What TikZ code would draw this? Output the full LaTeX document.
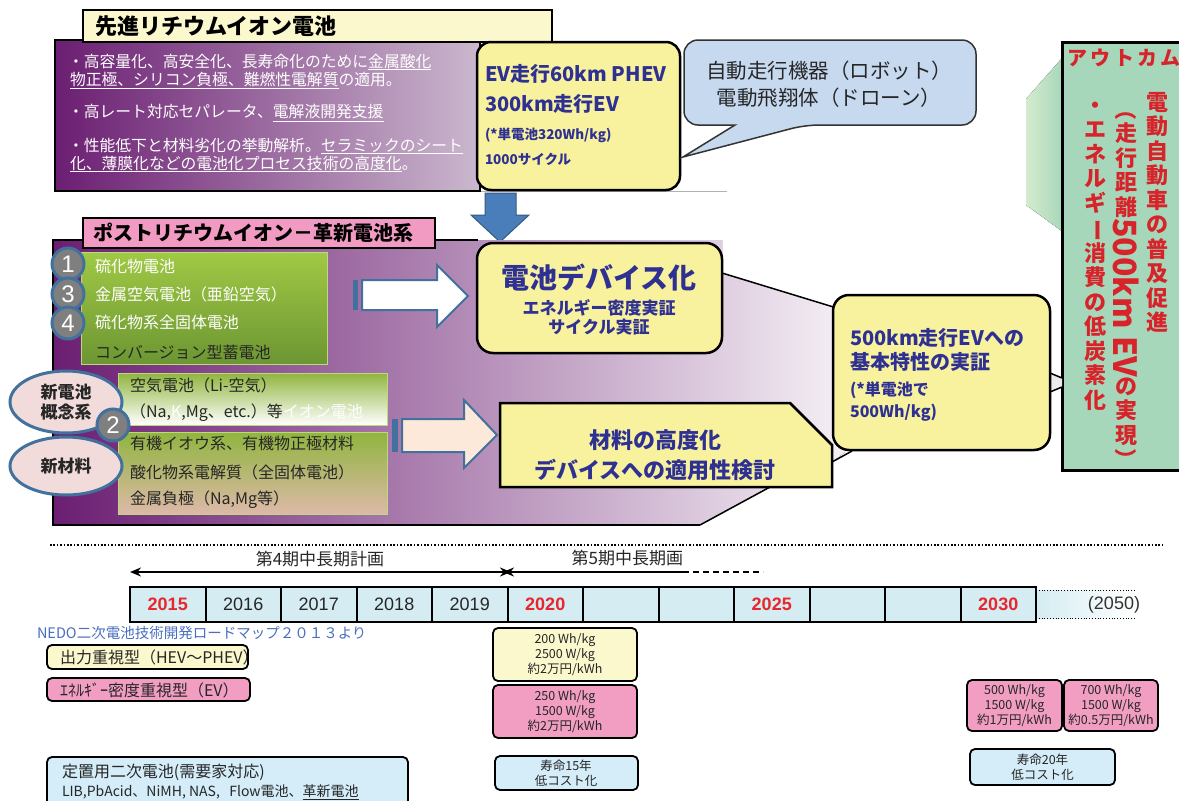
\documentclass[tikz,border=0pt]{standalone}
\usepackage{fontspec}
\setmainfont{Noto Sans CJK JP}
\newfontfamily\arial{Liberation Sans}
\usetikzlibrary{shapes.geometric,arrows.meta}
\newcommand{\fsz}[1]{\fontsize{#1}{#1}\selectfont}
\definecolor{navy}{HTML}{2E3192}
\definecolor{purp}{HTML}{6B1E72}
\definecolor{lav}{HTML}{CBB8CE}
\definecolor{ylw}{HTML}{F8F29E}
\definecolor{cream}{HTML}{FCF8CE}
\definecolor{pinkT}{HTML}{F29BC2}
\definecolor{bubble}{HTML}{C6D9EF}
\definecolor{bord}{HTML}{41719C}
\definecolor{circ}{HTML}{7F7F7F}
\definecolor{gtop}{HTML}{A0C945}
\definecolor{gbot}{HTML}{6C9632}
\definecolor{outg}{HTML}{A7D7BA}
\definecolor{outl}{HTML}{D5EBCD}
\definecolor{red1}{HTML}{D7242B}
\definecolor{yred}{HTML}{E8262D}
\definecolor{tl}{HTML}{D4ECF2}
\definecolor{peach}{HTML}{FDE9D9}
\definecolor{ellf}{HTML}{F2DCDB}
\definecolor{arrowb}{HTML}{4A7EBB}
\definecolor{nedo}{HTML}{4A6FC0}
\definecolor{pinkB}{HTML}{F19EC2}
\definecolor{blueB}{HTML}{D4EDF9}
\definecolor{tan}{HTML}{DDB9A8}
\begin{document}
\begin{tikzpicture}[x=1pt,y=-1pt,
  every node/.style={inner sep=0pt,outer sep=0pt},
  wl/.style={anchor=west,text=white,font=\fsz{15.8}},
  gl/.style={anchor=west,text=white,font=\fsz{16}},
  dl/.style={anchor=west,text=black!85,font=\fsz{16}},
  nv/.style={text=navy,font=\bfseries},
  vt/.style={anchor=north,text=red1,align=center,font={\fontsize{22}{24.5}\selectfont\bfseries}},
  numc/.style={circle,fill=circ,draw=bord,line width=3pt,minimum size=32pt,text=white,font=\arial\fsz{24}},
  ell/.style={ellipse,draw=bord,line width=3pt,fill=ellf,minimum width=112pt,align=center,font={\fontsize{17}{20}\selectfont\bfseries},text=black!85},
  cell/.style={draw,line width=2pt,fill=tl,minimum width=75.5pt,minimum height=35pt,anchor=north west,font=\arial\fsz{18},text=black!85},
  rcell/.style={cell,font=\arial\bfseries\fsz{18},text=yred},
  sbox/.style={draw,line width=1.8pt,rounded corners=5pt,anchor=north west},
  stx/.style={align=center,font={\fontsize{12.5}{15}\selectfont},text=black!85},
  callout/.style={draw=black,line width=1.5pt}
]
\useasboundingbox (0,0) rectangle (1179,801);
\fill[white] (0,0) rectangle (1179,801);

% ================= TOP SECTION =================
\draw[black!30,line width=1pt] (480,191) -- (727,191);
\node[draw,line width=2.5pt,anchor=north west,minimum width=425pt,minimum height=151pt,left color=purp,right color=lav] (pb1) at (55,40) {};
\node[draw,line width=2pt,fill=cream,anchor=north west,minimum width=469pt,minimum height=32pt] (t1) at (83,10) {};
\node[anchor=west,font=\fsz{22}\bfseries] (t1t) at (95,26) {先進リチウムイオン電池};

\node[wl] (l1) at (68,62) {・高容量化、高安全化、長寿命化のために\underline{金属酸化}};
\node[wl] (l2) at (70,80) {\underline{物正極、シリコン負極、難燃性電解質}の適用。};
\node[wl] (l3) at (68,113) {・高レート対応セパレータ、\underline{電解液開発支援}};
\node[wl] (l4) at (68,146) {・性能低下と材料劣化の挙動解析。\underline{セラミックのシート}};
\node[wl] (l5) at (70,164) {\underline{化、薄膜化などの電池化プロセス技術の高度化}。};

% EV box
\node[draw,line width=2.5pt,rounded corners=14pt,fill=ylw,anchor=north west,minimum width=203pt,minimum height=148pt] (ev) at (477,42) {};
\node[nv,anchor=west,font=\fsz{20}\bfseries] (ev1) at (485,74) {EV走行60km PHEV};
\node[nv,anchor=west,font=\fsz{20}\bfseries] (ev2) at (485,104) {300km走行EV};
\node[nv,anchor=west,font=\fsz{13.5}\bfseries] (ev3) at (485,135) {(*単電池320Wh/kg)};
\node[nv,anchor=west,font=\fsz{13.5}\bfseries] (ev4) at (485,159) {1000サイクル};

% speech bubble
\filldraw[fill=bubble,draw=black!80,line width=1.5pt,rounded corners=14pt]
  (684,40) -- (976,40) -- (976,125) -- (805,125) [sharp corners] -- (683,157) -- (735,125) [rounded corners=14pt] -- (684,125) -- cycle;
\node[align=center,text=black!85,font={\fontsize{20.5}{27}\selectfont}] (bt) at (829,84) {自動走行機器（ロボット）\\電動飛翔体（ドローン）};

% down arrow
\filldraw[fill=arrowb,draw=bord!80!black,line width=1pt] (485,193) -- (516,193) -- (516,215) -- (529,215) -- (500,242) -- (471,215) -- (485,215) -- cycle;

% ================= OUTCOME =================
\fill[left color=outl,right color=outg] (1063,57) -- (1026,99) -- (1026,205) -- (1063,232) -- cycle;
\node[draw,line width=3pt,anchor=north west,minimum width=125pt,minimum height=428pt,left color=outg,middle color=outl,right color=outg] (out) at (1062,42) {};
\node[text=red1,font=\fsz{20}\bfseries] (outt) at (1124,58) {ア\,ウ\,ト\,カ\,ム};
\node[vt] (v1) at (1157,92) {電\\動\\自\\動\\車\\の\\普\\及\\促\\進};
\node[vt] (v2) at (1126,98) {\rotatebox[origin=c]{-90}{（}\\走\\行\\距\\離\\\rotatebox[origin=c]{-90}{\fsz{32}500km EV}\\の\\実\\現\\\rotatebox[origin=c]{-90}{）}};
\node[vt] (v3) at (1095,102) {・\\エ\\ネ\\ル\\ギ\\\rotatebox[origin=c]{-90}{ー}\\消\\費\\の\\低\\炭\\素\\化};

% ================= MIDDLE SECTION =================
\fill[left color=purp,middle color=purp!45!white,right color=white!93!purp]
  (53,240) -- (722,240) -- (722,273) -- (840,309) -- (845,452) -- (832,462) -- (832,487) -- (770,487) -- (700,525) -- (53,525) -- cycle;
\draw[line width=2.5pt] (478,240) -- (53,240) -- (53,525) -- (700,525);
\draw[callout] (700,525) -- (770,487);
\node[draw,line width=2pt,fill=pinkT,anchor=north west,minimum width=352pt,minimum height=30pt] (t2) at (83,218) {};
\node[anchor=west,font=\fsz{20}\bfseries] (t2t) at (93,233) {ポストリチウムイオン－革新電池系};

% green box 1
\node[draw=gtop!70!white,line width=1pt,anchor=north west,minimum width=246pt,minimum height=112pt,top color=gtop,bottom color=gbot] (g1) at (81,252) {};
\node[gl] (g1a) at (95,266) {硫化物電池};
\node[gl] (g1b) at (95,294) {金属空気電池（亜鉛空気）};
\node[gl] (g1c) at (95,322) {硫化物系全固体電池};
\node[dl] (g1d) at (95,352) {コンバージョン型蓄電池};
\node[numc] (c1) at (68,264) {1};
\node[numc] (c3) at (68,294) {3};
\node[numc] (c4) at (68,323) {4};

% arrow 1
\fill[bord] (353,280) rectangle (358,310);
\filldraw[fill=white,draw=bord,line width=2pt] (362,280) -- (437,280) -- (437,265) -- (468,296) -- (437,327) -- (437,310) -- (362,310) -- cycle;

% green box 2 & 3
\node[draw=gtop!70!white,line width=1pt,anchor=north west,minimum width=269pt,minimum height=52pt,top color=gtop!90!black,bottom color=white] (g2) at (118,373) {};
\node[draw=gtop!70!white,line width=1pt,anchor=north west,minimum width=269pt,minimum height=82pt,top color=gtop!90!black,middle color=gtop!70!tan,bottom color=tan] (g3) at (118,432) {};
\node[dl] (g2a) at (130,385) {空気電池（Li-空気）};
\node[dl] (g2b) at (130,413) {（Na,{\color{white}K},Mg、etc.）等{\color{white}イオン電池}};
\node[dl] (g3a) at (130,443) {有機イオウ系、有機物正極材料};
\node[dl] (g3b) at (130,472) {酸化物系電解質（全固体電池）};
\node[dl] (g3c) at (130,500) {金属負極（Na,Mg等）};
\node[ell,minimum height=62pt] (e1) at (66,402) {新電池\\概念系};
\node[ell,minimum height=58pt] (e2) at (66,466) {新材料};
\node[numc] (c2) at (113,425) {2};

% arrow 2
\fill[bord] (392,419) rectangle (398,452);
\filldraw[fill=peach,draw=bord,line width=2pt] (402,419) -- (464,419) -- (464,400) -- (497,435) -- (464,468) -- (464,452) -- (402,452) -- cycle;

% callout lines
\draw[callout] (722,273) -- (840,309);
\draw[callout] (832,462) -- (852,451);

% device box
\node[draw,line width=2.5pt,rounded corners=16pt,fill=ylw,anchor=north west,minimum width=245pt,minimum height=110pt] (dev) at (477,243) {};
\node[nv,font=\fsz{28}\bfseries] (dev1) at (599,278) {電池デバイス化};
\node[nv,font=\fsz{17}\bfseries] (dev2) at (599,308) {エネルギー密度実証};
\node[nv,font=\fsz{17}\bfseries] (dev3) at (599,327) {サイクル実証};

% material box
\filldraw[fill=ylw,draw=black,line width=2.5pt] (500,403) -- (790,403) -- (832,445) -- (832,487) -- (500,487) -- cycle;
\node[nv,font=\fsz{22}\bfseries] (mat1) at (655,440) {材料の高度化};
\node[nv,font=\fsz{22}\bfseries] (mat2) at (655,470) {デバイスへの適用性検討};

% 500km box
\fill[black!8] (1050,373) -- (1062,378) -- (1062,387) -- (1050,392) -- cycle;
\draw[callout] (1050,373) -- (1062,378);
\draw[callout] (1050,392) -- (1062,387);
\node[draw,line width=2.5pt,rounded corners=16pt,fill=ylw,anchor=north west,minimum width=217pt,minimum height=155pt] (km) at (833,295) {};
\node[nv,anchor=west,font=\fsz{20}\bfseries] (km1) at (850,338) {500km走行EVへの};
\node[nv,anchor=west,font=\fsz{20}\bfseries] (km2) at (850,362) {基本特性の実証};
\node[nv,anchor=west,font=\fsz{16}\bfseries] (km3) at (850,390) {(*単電池で};
\node[nv,anchor=west,font=\fsz{16}\bfseries] (km4) at (850,413) {500Wh/kg)};

% ================= TIMELINE =================
\draw[line width=1.6pt,dash pattern=on 1.6pt off 1.8pt] (50,545) -- (1165,545);
\node[font=\fsz{17},text=black!85] (p4) at (320,559) {第4期中長期計画};
\node[anchor=east,font=\fsz{17},text=black!85] (p5) at (683,558) {第5期中長期画};
\coordinate (a4l) at (130,572);
\coordinate (a4r) at (511,572);
\coordinate (a5l) at (503,572);
\coordinate (a5m) at (683,572);
\coordinate (a5r) at (763,572);
\draw[{Stealth[length=11pt,width=9pt]}-{Stealth[length=11pt,width=9pt]},line width=1.8pt] (a4l) -- (a4r);
\draw[{Stealth[length=11pt,width=9pt]}-,line width=1.8pt] (a5l) -- (a5m);
\draw[line width=1.8pt,dash pattern=on 6pt off 4pt] (a5m) -- (a5r);

\fill[left color=tl,right color=white] (1036,590) rectangle (1135,618);
\draw[line width=0.8pt,dotted] (1036,590) -- (1135,590);
\draw[line width=0.8pt,dotted] (1036,618) -- (1135,618);
\node[rcell] (y0) at (130,587) {2015};
\node[cell] (y1) at (205.5,587) {2016};
\node[cell] (y2) at (281,587) {2017};
\node[cell] (y3) at (356.5,587) {2018};
\node[cell] (y4) at (432,587) {2019};
\node[rcell] (y5) at (507.5,587) {2020};
\node[cell] (y6) at (583,587) {};
\node[cell] (y7) at (658.5,587) {};
\node[rcell] (y8) at (734,587) {2025};
\node[cell] (y9) at (809.5,587) {};
\node[cell] (y10) at (885,587) {};
\node[rcell] (y11) at (960.5,587) {2030};
\node[font=\arial\fsz{18},text=black!80] (y50) at (1114,605) {(2050)};

\node[anchor=west,text=nedo,font=\fsz{14.5}] (nedo) at (37,633) {NEDO二次電池技術開発ロードマップ２０１３より};

\node[sbox,fill=cream,minimum width=201pt,minimum height=24pt] (hev) at (47,645) {};
\node[dl,font=\fsz{16}] (hevt) at (60,657) {出力重視型（HEV～PHEV）};
\node[sbox,fill=pinkB,minimum width=203pt,minimum height=23pt] (evb) at (47,678) {};
\node[dl,font=\fsz{16}] (evbt) at (60,690) {ｴﾈﾙｷﾞｰ密度重視型（EV）};
\node[sbox,fill=blueB,minimum width=361pt,minimum height=50pt] (st) at (47,757) {};
\node[dl,font=\fsz{16}] (st1) at (62,772) {定置用二次電池(需要家対応)};
\node[dl,font=\fsz{14}] (st2) at (62,792) {LIB,PbAcid、NiMH, NAS,\ \ \ Flow電池、\underline{革新電池}};

\node[sbox,fill=cream,minimum width=144pt,minimum height=53pt] (b1) at (493,628) {};
\node[stx] (b1t) at (565,655) {200 Wh/kg\\2500 W/kg\\約2万円/kWh};
\node[sbox,fill=pinkB,minimum width=144pt,minimum height=53pt] (b2) at (493,685) {};
\node[stx] (b2t) at (565,712) {250 Wh/kg\\1500 W/kg\\約2万円/kWh};
\node[sbox,fill=blueB,minimum width=143pt,minimum height=34pt] (b3) at (495,756) {};
\node[stx] (b3t) at (566,773) {寿命15年\\低コスト化};

\node[sbox,fill=pinkB,minimum width=95pt,minimum height=51pt] (b4) at (967,680) {};
\node[stx] (b4t) at (1014.5,705.5) {500 Wh/kg\\1500 W/kg\\約1万円/kWh};
\node[sbox,fill=pinkB,minimum width=94pt,minimum height=51pt] (b5) at (1064,680) {};
\node[stx] (b5t) at (1111,705.5) {700 Wh/kg\\1500 W/kg\\約0.5万円/kWh};
\node[sbox,fill=blueB,minimum width=145pt,minimum height=36pt] (b6) at (970,749) {};
\node[stx] (b6t) at (1042.5,767) {寿命20年\\低コスト化};
\end{tikzpicture}
\end{document}
